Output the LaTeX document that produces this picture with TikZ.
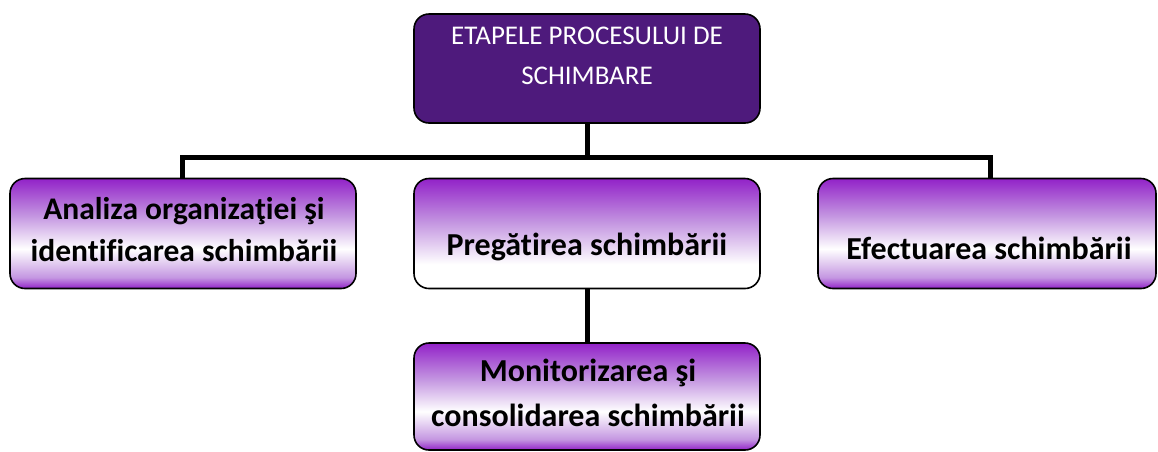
\documentclass[tikz,border=0pt]{standalone}
\usepackage{fontspec}
\setmainfont{Carlito}[Ligatures=NoCommon]
\definecolor{vpurple}{RGB}{146,34,200}
\definecolor{lav}{RGB}{196,150,225}
\definecolor{darkpurple}{RGB}{78,26,124}
\pgfdeclareverticalshading{sideshade}{100bp}{color(0bp)=(vpurple); color(25bp)=(vpurple); color(30bp)=(lav); color(43bp)=(white); color(58bp)=(lav); color(75bp)=(vpurple); color(100bp)=(vpurple)}
\pgfdeclareverticalshading{midshade}{100bp}{color(0bp)=(white); color(25bp)=(white); color(36bp)=(white); color(55bp)=(lav); color(75bp)=(vpurple); color(100bp)=(vpurple)}
\tikzset{
  box/.style={draw=black, line width=1.6pt, rounded corners=15pt, minimum width=346pt, minimum height=110pt, inner sep=0pt},
  side/.style={box, shading=sideshade},
  mid/.style={box, shading=midshade},
  txt/.style={inner sep=0pt, align=center, font=\fontsize{32}{45}\selectfont\bfseries},
  conn/.style={line width=5pt, black},
}
\begin{document}
\begin{tikzpicture}[x=1pt,y=-1pt]
\useasboundingbox (0,0) rectangle (1158,451);
\node[box, fill=darkpurple, minimum height=109pt] (top) at (587,68.5) {};
\node[text=white, inner sep=0pt, font=\fontsize{27}{40}\selectfont, align=center] (toptxt) at (587,56) {ETAPELE PROCESULUI DE\\SCHIMBARE};
\node[side] (ana) at (183,233.5) {};
\node[txt, font=\fontsize{31.5}{42}\selectfont\bfseries] (anatxt) at (184,230) {Analiza organizaţiei şi\\identificarea schimbării};
\node[mid] (preg) at (587,233.5) {};
\node[txt] (pregtxt) at (587,247) {Pregătirea schimbării};
\node[side, minimum width=338pt] (efec) at (987,233.5) {};
\node[txt] (efectxt) at (989,248) {Efectuarea schimbării};
\node[side, minimum height=107pt] (mon) at (587,396.5) {};
\node[txt] (montxt) at (588,393) {Monitorizarea şi\\consolidarea schimbării};
\coordinate (bus) at (587,157);
\draw[conn] (top.south) -- (bus);
\draw[conn] (ana.north -| 182,0) |- (bus) -| (efec.north -| 990,0);
\draw[conn] (preg.south) -- (mon.north);
\end{tikzpicture}
\end{document}
